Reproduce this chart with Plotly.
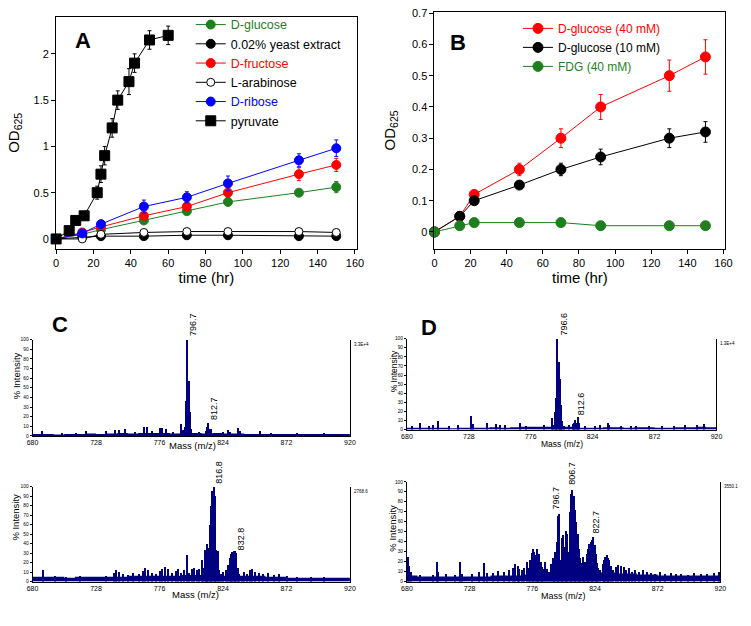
import plotly.graph_objects as go

W, H = 751, 626
FONT = "Liberation Sans, Arial, sans-serif"
NAVY = "#000080"
GREEN = "#1f7f1f"
RED = "#ff0000"
BLUE = "#0000ff"

# ---------------- Panel A data ----------------
time_a = [0, 14, 24, 47, 70, 92, 130, 150]
glucose_a = [0, 0.05, 0.10, 0.20, 0.30, 0.40, 0.50, 0.56]
glucose_a_err = [0, 0.01, 0.02, 0.03, 0.03, 0.04, 0.03, 0.06]
yeast_a = [0, 0.02, 0.03, 0.03, 0.04, 0.04, 0.03, 0.03]
yeast_a_err = [0, 0.01, 0.01, 0.02, 0.02, 0.02, 0.02, 0.02]
fructose_a = [0, 0.07, 0.13, 0.25, 0.35, 0.50, 0.70, 0.80]
fructose_a_err = [0, 0.01, 0.02, 0.03, 0.04, 0.05, 0.07, 0.07]
arabinose_a = [0, 0.00, 0.05, 0.07, 0.08, 0.08, 0.08, 0.07]
arabinose_a_err = [0, 0.01, 0.01, 0.01, 0.01, 0.02, 0.01, 0.01]
ribose_a = [0, 0.06, 0.16, 0.35, 0.45, 0.60, 0.85, 0.98]
ribose_a_err = [0, 0.01, 0.02, 0.07, 0.06, 0.08, 0.07, 0.09]
time_pyr = [0, 7, 10.5, 15, 22, 24, 26, 30, 33, 39, 42, 50, 60]
pyruvate = [0, 0.09, 0.20, 0.25, 0.50, 0.70, 0.90, 1.20, 1.50, 1.70, 1.90, 2.15, 2.20]
pyruvate_err = [0, 0.02, 0.02, 0.03, 0.07, 0.09, 0.10, 0.10, 0.10, 0.14, 0.10, 0.10, 0.10]

# ---------------- Panel B data ----------------
time_b = [0, 14, 22, 47, 70, 92, 130, 150]
glc40_b = [0, 0.05, 0.12, 0.20, 0.30, 0.40, 0.50, 0.56]
glc40_b_err = [0, 0.005, 0.01, 0.02, 0.03, 0.04, 0.05, 0.055]
glc10_b = [0, 0.05, 0.10, 0.15, 0.20, 0.24, 0.30, 0.32]
glc10_b_err = [0, 0.005, 0.01, 0.01, 0.02, 0.025, 0.03, 0.033]
fdg_b = [0, 0.02, 0.03, 0.03, 0.03, 0.02, 0.02, 0.02]
fdg_b_err = [0, 0.003, 0.004, 0.004, 0.004, 0.003, 0.003, 0.003]

# ---------------- Mass spectra data ----------------
mass_ticks = [680, 728, 776, 824, 872, 920]
base_mass = [680, 688, 696, 704, 712, 720, 728, 736, 744, 752, 760, 768, 776, 784, 792, 800,
             808, 816, 824, 832, 840, 848, 856, 864, 872, 880, 888, 896, 904, 912, 920]

# C top
c1_base = [2, 2, 1.5, 2, 2, 2.5, 2, 2.5, 3, 2.5, 3, 3, 3, 2.5, 3, 3,
           2.5, 3, 2.5, 2.5, 2, 2, 2, 2, 2, 2, 2, 2, 2, 2, 2]
c1_mass = [687, 702, 713, 720, 735, 742, 745, 750, 757, 764, 766, 770, 776, 778, 781, 786,
           792.4, 793.7, 794.7, 795.7, 796.7, 797.7, 798.7, 799.7, 806, 810.7, 811.7, 812.7,
           813.7, 814.8, 820, 824, 827.8, 829, 835.5, 837, 852, 860, 880, 900]
c1_int = [5, 3, 3, 5, 5, 6, 6, 8, 4, 10, 10, 5, 9, 9, 8, 4,
          13, 7, 10, 37, 100, 57, 25, 8, 4, 5, 10, 14,
          8, 8, 3, 4, 6, 4, 9, 5, 5, 3, 3, 3]
c1_peaks = [796.7, 812.7]
c1_peak_int = [100, 14]
c1_scale = "3.3E+4"

# C bottom
c2_base = [5, 5, 5, 4, 5, 5, 5, 5, 5, 6, 6, 6, 6, 6, 7, 7,
           7, 7, 6, 6, 6, 6, 5, 5, 4, 4, 4, 4, 4, 4, 4]
c2_mass = [688, 697, 705, 716, 735, 741, 743, 745, 748, 752, 756, 760, 763, 765, 767, 770,
           773, 776, 778, 780, 782, 785, 788, 790, 792, 794, 796.2, 798, 800, 802, 804,
           805.8, 807.8, 808.8, 809.8, 810.8, 811.8, 812.8, 813.8, 814.8, 815.8, 816.8,
           817.8, 818.8, 819.8, 820.8, 822, 824, 826, 827.8, 828.8, 829.8, 830.8, 831.8,
           832.8, 833.8, 834.8, 836, 838, 840, 842, 844, 846, 848, 851, 854, 858, 862,
           866, 872, 880, 890, 900]
c2_int = [12, 6, 5, 6, 6, 9, 12, 10, 8, 7, 9, 8, 11, 15, 12, 9,
          8, 11, 13, 16, 13, 9, 11, 14, 9, 12, 28, 9, 13, 15, 12,
          14, 23, 15, 34, 26, 40, 36, 60, 80, 96, 100,
          91, 34, 33, 12, 8, 10, 12, 18, 25, 29, 31, 32,
          33, 30, 15, 8, 6, 10, 8, 12, 13, 10, 9, 8, 9, 7,
          8, 6, 5, 5, 5]
c2_peaks = [816.8, 832.8]
c2_peak_int = [100, 33]
c2_scale = "2768.6"

# D top
d1_base = [2, 2, 2, 2, 1.5, 2, 2, 2, 2.5, 2, 2.5, 3, 3, 3, 3.5, 3,
           2, 2, 2, 2.5, 2.5, 2, 2.5, 2.5, 2, 2, 2.5, 2.5, 3, 2.5, 2.5]
d1_mass = [684, 690, 697, 700, 704, 713, 720, 729.8, 731, 742.5, 749, 752, 756, 767.4, 772,
           786, 792.6, 793.6, 794.6, 795.6, 796.6, 797.6, 798.6, 799.6, 800.6, 802, 806,
           808.6, 809.6, 810.6, 811.6, 812.6, 813.6, 818, 826, 830, 836, 837, 846, 854,
           858, 868, 878, 887, 896, 905, 910]
d1_int = [4, 7, 4, 5, 10, 4, 5, 15, 6, 8, 6, 5, 5, 8, 4,
          5, 13, 5, 20, 35, 100, 75, 56, 27, 10, 4, 5,
          6, 8, 11, 7, 14, 8, 4, 4, 5, 8, 5, 4, 4,
          4, 4, 4, 4, 5, 5, 6]
d1_peaks = [796.6, 812.6]
d1_peak_int = [100, 14]
d1_scale = "1.3E+4"

# D bottom
d2_base = [6, 5, 5, 5, 5, 5, 5, 5, 6, 6, 6, 7, 8, 8, 8, 9,
           9, 9, 9, 9, 8, 8, 7, 7, 6, 6, 6, 6, 6, 6, 6]
d2_mass = [680.5, 681.5, 683, 690, 700, 703, 704, 710, 717, 721, 722, 730, 735, 739, 741,
           746, 750, 754, 758, 761, 763, 764.8, 766, 768, 770, 772, 773.5, 774.5, 775.5,
           776.5, 777.5, 778.5, 779.5, 780.5, 781.5, 782.5, 783.5, 784.5, 785.6, 787, 788.7,
           790, 791.7, 792.7, 793.7, 794.7, 795.7, 796.7, 797.7, 798.7, 799.7, 800.7, 801.7,
           802.7, 803.7, 804.7, 805.7, 806.7, 807.7, 808.7, 809.7, 810.7, 811.7, 812.7,
           813.7, 814.7, 815.7, 816.7, 817.7, 818.7, 819.7, 820.7, 821.7, 822.7, 823.7,
           824.7, 825.7, 826.7, 828, 830, 831, 832, 833, 834, 835, 836, 838, 840, 842, 844,
           846, 848, 850, 852, 855, 858, 861, 864, 867, 870, 874, 878, 882, 886, 890, 895,
           900, 905, 910, 915, 919]
d2_int = [25, 16, 10, 7, 7, 20, 10, 8, 7, 20, 8, 8, 10, 19, 9,
          9, 11, 10, 12, 14, 18, 16, 13, 12, 14, 20, 14, 22, 29,
          33, 30, 27, 33, 24, 28, 20, 15, 13, 20, 13, 10,
          18, 24, 12, 30, 40, 66, 68, 22, 44, 47, 35, 51,
          48, 30, 70, 88, 92, 86, 72, 60, 48, 33, 24,
          19, 25, 14, 20, 28, 33, 38, 40, 42, 45, 37,
          28, 19, 14, 12, 18, 22, 25, 27, 24, 22, 16, 12, 15, 17, 16,
          15, 12, 14, 10, 12, 10, 12, 10, 9, 8, 10, 8, 9, 8, 8, 7,
          9, 8, 8, 9, 10]
d2_peaks = [796.7, 806.7, 822.7]
d2_peak_int = [68, 92, 45]
d2_scale = "3550.1"


def px(x):
    return x / W


def py(y):
    return 1 - y / H


fig = go.Figure()


def line_trace(x, y, err, name, color, fill, symbol, size, xa, ya, legend):
    return go.Scatter(
        x=x, y=y, name=name, mode="lines+markers",
        line=dict(color=color, width=1),
        marker=dict(color=fill, size=size, symbol=symbol, line=dict(color=color, width=1)),
        error_y=dict(type="data", array=err, visible=True, color=color, thickness=1, width=2),
        xaxis=xa, yaxis=ya, legend=legend, cliponaxis=False,
    )


def lg(text, color):
    return f'<span style="color:{color}">{text}</span>'


# Panel A traces
fig.add_trace(line_trace(time_a, glucose_a, glucose_a_err, lg("D-glucose", GREEN), GREEN, GREEN, "circle", 9, "x", "y", "legend"))
fig.add_trace(line_trace(time_a, yeast_a, yeast_a_err, "0.02% yeast extract", "black", "black", "circle", 9, "x", "y", "legend"))
fig.add_trace(line_trace(time_a, fructose_a, fructose_a_err, lg("D-fructose", RED), RED, RED, "circle", 9, "x", "y", "legend"))
fig.add_trace(line_trace(time_a, arabinose_a, arabinose_a_err, "L-arabinose", "black", "white", "circle", 8, "x", "y", "legend"))
fig.add_trace(line_trace(time_a, ribose_a, ribose_a_err, lg("D-ribose", BLUE), BLUE, BLUE, "circle", 9, "x", "y", "legend"))
fig.add_trace(line_trace(time_pyr, pyruvate, pyruvate_err, "pyruvate", "black", "black", "square", 10, "x", "y", "legend"))

# Panel B traces
fig.add_trace(line_trace(time_b, glc40_b, glc40_b_err, lg("D-glucose (40 mM)", RED), RED, RED, "circle", 10, "x2", "y2", "legend2"))
fig.add_trace(line_trace(time_b, glc10_b, glc10_b_err, "D-glucose (10 mM)", "black", "black", "circle", 10, "x2", "y2", "legend2"))
fig.add_trace(line_trace(time_b, fdg_b, fdg_b_err, lg("FDG (40 mM)", GREEN), GREEN, GREEN, "circle", 10, "x2", "y2", "legend2"))

# Spectra
spectra = [
    ("x3", "y3", c1_base, c1_mass, c1_int),
    ("x4", "y4", c2_base, c2_mass, c2_int),
    ("x5", "y5", d1_base, d1_mass, d1_int),
    ("x6", "y6", d2_base, d2_mass, d2_int),
]
for xa, ya, base, m, inten in spectra:
    fig.add_trace(go.Scatter(x=base_mass, y=base, mode="lines", line=dict(color=NAVY, width=0, shape="hv"),
                             fill="tozeroy", fillcolor=NAVY, xaxis=xa, yaxis=ya, showlegend=False,
                             hoverinfo="skip"))
    fig.add_trace(go.Bar(x=m, y=inten, width=1.0, marker=dict(color=NAVY, line=dict(width=0)),
                         xaxis=xa, yaxis=ya, showlegend=False, hoverinfo="skip"))

main_ax = dict(showline=True, linecolor="black", linewidth=1, mirror=True, ticks="outside",
               ticklen=4, tickwidth=1, tickcolor="black", showgrid=False, zeroline=False,
               tickfont=dict(size=11, color="black", family=FONT))

spec_x = dict(range=[680, 920], tickvals=mass_ticks, showline=True, linecolor="black", linewidth=1,
              ticks="", showgrid=False, zeroline=False,
              tickfont=dict(size=7, color="black", family=FONT))
spec_y = dict(range=[0, 100], tickvals=list(range(0, 101, 10)), showline=True, mirror=True,
              linecolor="black", linewidth=1, ticks="outside", ticklen=2, tickcolor="black",
              showgrid=False, zeroline=False, tickfont=dict(size=4.8, color="black", family=FONT))

fig.update_layout(
    width=W, height=H, autosize=False,
    margin=dict(l=0, r=0, t=0, b=0),
    paper_bgcolor="white", plot_bgcolor="white",
    font=dict(family=FONT, color="black"),
    showlegend=True,
    xaxis=dict(main_ax, domain=[px(51), px(357)], range=[0, 161], tick0=0, dtick=20, anchor="y",
               title=dict(text="time (hr)", font=dict(size=15), standoff=3)),
    yaxis=dict(main_ax, domain=[py(247), py(12)], range=[-0.107, 2.4], tick0=0, dtick=0.5, anchor="x",
               title=dict(text="OD<sub>625</sub>", font=dict(size=15), standoff=10)),
    xaxis2=dict(main_ax, domain=[px(436), px(732)], range=[0, 161], tick0=0, dtick=20, anchor="y2",
                title=dict(text="time (hr)", font=dict(size=15), standoff=3)),
    yaxis2=dict(main_ax, domain=[py(247), py(7)], range=[-0.054, 0.704], tick0=0, dtick=0.1, anchor="x2",
                title=dict(text="OD<sub>625</sub>", font=dict(size=15), standoff=12)),
    xaxis3=dict(spec_x, domain=[px(27), px(350)], anchor="y3"),
    yaxis3=dict(spec_y, domain=[py(436.5), py(339)], anchor="x3"),
    xaxis4=dict(spec_x, domain=[px(27), px(350)], anchor="y4"),
    yaxis4=dict(spec_y, domain=[py(584), py(488)], anchor="x4"),
    xaxis5=dict(spec_x, domain=[px(408), px(723)], anchor="y5"),
    yaxis5=dict(spec_y, domain=[py(430), py(338)], anchor="x5"),
    xaxis6=dict(spec_x, domain=[px(408), px(727)], anchor="y6"),
    yaxis6=dict(spec_y, domain=[py(584), py(483)], anchor="x6"),
    legend=dict(x=px(188), y=py(5), xanchor="left", yanchor="top", bgcolor="rgba(0,0,0,0)",
                font=dict(size=12.5, family=FONT, color="black"), tracegroupgap=0),
    legend2=dict(x=px(521), y=py(9), xanchor="left", yanchor="top", bgcolor="rgba(0,0,0,0)",
                 font=dict(size=12, family=FONT, color="black"), tracegroupgap=0),
    bargap=0,
)

annotations = []
# Panel letters
for letter, cx, cy in [("A", 78, 36), ("B", 460, 38), ("C", 55, 324), ("D", 430, 327)]:
    annotations.append(dict(text=f"<b>{letter}</b>", x=px(cx), y=py(cy), xref="paper", yref="paper",
                            xanchor="center", yanchor="middle", showarrow=False,
                            font=dict(size=22, family=FONT, color="black")))

# Peak labels (style offsets in pixels)
peak_sets = [
    ("x3", "y3", c1_peaks, c1_peak_int, [(6, 2), (6, 0)]),
    ("x4", "y4", c2_peaks, c2_peak_int, [(6, 1), (6, -2)]),
    ("x5", "y5", d1_peaks, d1_peak_int, [(7, 1), (3, 0)]),
    ("x6", "y6", d2_peaks, d2_peak_int, [(-3, 2), (0, 3), (3, 1)]),
]
for xa, ya, peaks, hts, offs in peak_sets:
    for m, h, (dxs, dys) in zip(peaks, hts, offs):
        annotations.append(dict(text=f"{m:.1f}", x=m, y=h, xref=xa, yref=ya, textangle=-90,
                                xanchor="center", yanchor="bottom", xshift=dxs, yshift=dys,
                                showarrow=False, font=dict(size=9, family=FONT, color="black")))

# Spectrum axis titles and scale labels
spec_titles = [
    ("x3", "y3", 0.626, -16, 9.5, 0.505, -10, 9.5, c1_scale),
    ("x4", "y4", 0.68, -17, 9.5, 0.514, -13, 9.5, c2_scale),
    ("x5", "y5", 0.64, -13, 8.5, 0.50, -14, 8.5, d1_scale),
    ("x6", "y6", 0.535, -14.5, 9.5, 0.50, -14, 9, d2_scale),
]
for xa, ya, ty, txs, tsize, mx, mys, msize, scale in spec_titles:
    annotations.append(dict(text="% Intensity", x=0, y=ty, xref=f"{xa} domain", yref=f"{ya} domain",
                            textangle=-90, xanchor="center", yanchor="middle", xshift=txs,
                            showarrow=False, font=dict(size=tsize, family=FONT, color="black")))
    annotations.append(dict(text="Mass (m/z)", x=mx, y=0, xref=f"{xa} domain", yref=f"{ya} domain",
                            xanchor="center", yanchor="middle", yshift=mys,
                            showarrow=False, font=dict(size=msize, family=FONT, color="black")))
    annotations.append(dict(text=scale, x=1, y=1, xref=f"{xa} domain", yref=f"{ya} domain",
                            xanchor="left", yanchor="top", xshift=2,
                            showarrow=False, font=dict(size=4.5, family=FONT, color="black")))

fig.update_layout(annotations=annotations)

fig.write_html("out.html", config={"displayModeBar": False},
               post_script="document.body.style.margin='0';")
